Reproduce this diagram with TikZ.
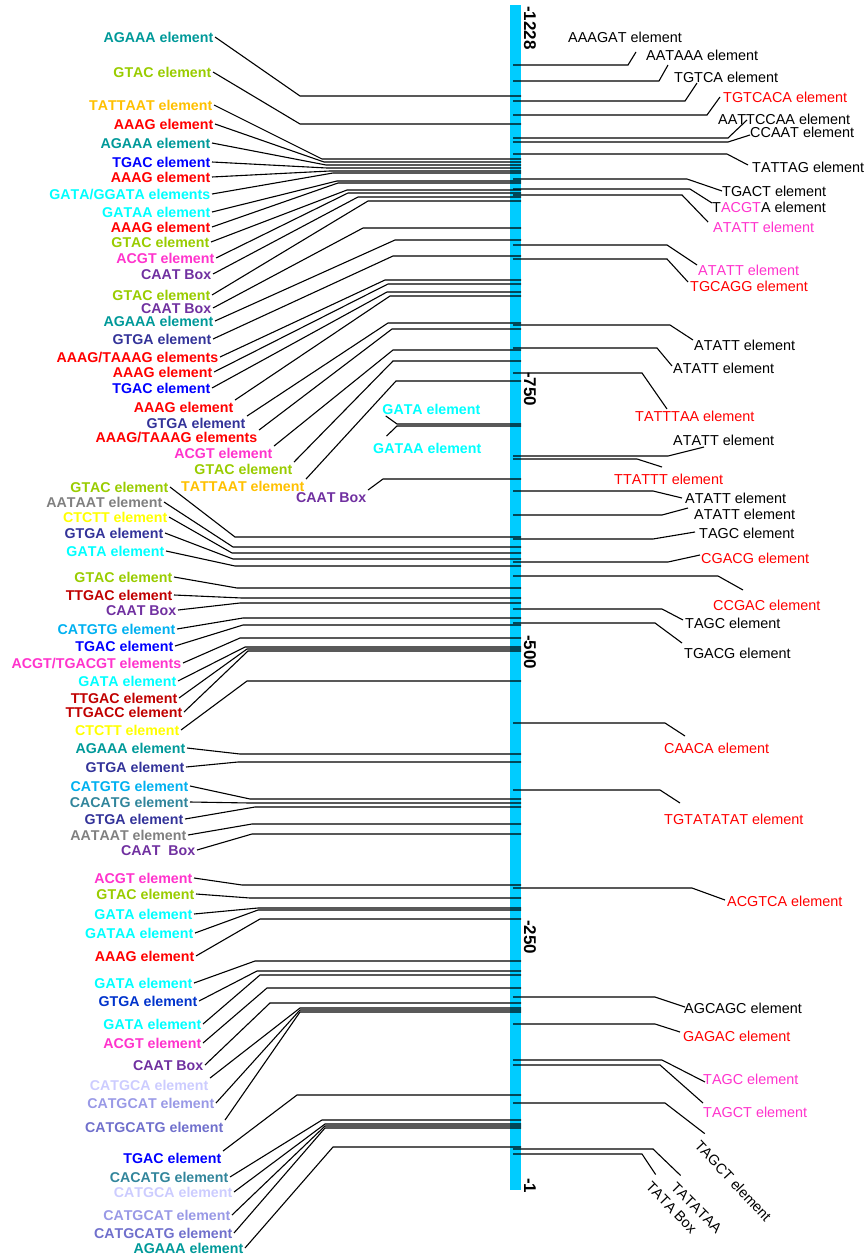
\documentclass[tikz,border=0pt]{standalone}
\usepackage{fontspec}
\setmainfont{Liberation Sans}[Kerning=Off]
\definecolor{cteal}{RGB}{0,153,153}
\definecolor{cyg}{RGB}{153,204,0}
\definecolor{corange}{RGB}{255,192,0}
\definecolor{cred}{RGB}{255,0,0}
\definecolor{cblue}{RGB}{0,0,255}
\definecolor{ccyan}{RGB}{0,255,255}
\definecolor{cpink}{RGB}{255,51,204}
\definecolor{cpurple}{RGB}{112,48,160}
\definecolor{cindigo}{RGB}{51,51,153}
\definecolor{cgray}{RGB}{128,128,128}
\definecolor{cyellow}{RGB}{255,255,0}
\definecolor{cdred}{RGB}{192,0,0}
\definecolor{csky}{RGB}{0,176,240}
\definecolor{ccacatg}{RGB}{49,133,155}
\definecolor{croyal}{RGB}{0,51,204}
\definecolor{clav}{RGB}{204,204,255}
\definecolor{clavb}{RGB}{153,153,230}
\definecolor{clavc}{RGB}{112,112,204}
\definecolor{barblue}{RGB}{0,204,255}
\tikzset{
  lab/.style={font=\bfseries\fontsize{14.2}{16}\selectfont, inner sep=1.5pt, text height=10.5pt, text depth=0pt, anchor=east},
  rlab/.style={font=\fontsize{14.4}{16}\selectfont, inner sep=1pt, text height=10.5pt, text depth=0pt, anchor=west},
  scalelab/.style={font=\bfseries\fontsize{17}{18}\selectfont, inner sep=0pt, rotate=-90, anchor=west},
  lead/.style={line width=1.1pt, black},
}
% left label: name, colour, right x, y, text, knee x, bar y, start anchor
\newcommand{\LL}[8]{%
  \node[lab, text=#2] (#1) at (#3,#4) {#5};
  \coordinate (#1k) at (#6,#7);
  \coordinate (#1b) at (521,#7);
  \draw[lead] (#1.#8) -- (#1k) -- (#1b);
}
% right label: name, colour, left x, y, text, knee x, bar y, end x, end y
\newcommand{\RL}[9]{%
  \node[rlab, text=#2] (#1) at (#3,#4) {#5};
  \coordinate (#1s) at (513,#7);
  \coordinate (#1k) at (#6,#7);
  \coordinate (#1e) at (#8,#9);
  \draw[lead] (#1s) -- (#1k) -- (#1e);
}
\begin{document}
\begin{tikzpicture}[x=1pt,y=-1pt]
\useasboundingbox (0,0) rectangle (864,1260);
\node[fill=barblue, minimum width=11pt, minimum height=1185pt, inner sep=0pt, anchor=north west] (bar) at (510,5) {};
% scale labels
\node[scalelab] (s1228) at (530,6) {-1228};
\node[scalelab] (s750) at (530,372) {-750};
\node[scalelab] (s500) at (530,635) {-500};
\node[scalelab] (s250) at (530,920) {-250};
\node[scalelab] (s1) at (530,1178) {-1};
% left, upper group
\LL{L1}{cteal}{215}{37}{AGAAA element}{300}{96}{east}
\LL{L2}{cyg}{213}{72}{GTAC element}{300}{124}{east}
\LL{L3}{corange}{214}{105}{TATTAAT element}{322}{159}{east}
\LL{L4}{cred}{215}{124}{AAAG element}{324}{162}{east}
\LL{L5}{cteal}{212}{143}{AGAAA element}{326}{165}{east}
\LL{L6}{cblue}{212}{162}{TGAC element}{327}{168}{east}
\LL{L7}{cred}{212}{177}{AAAG element}{330}{171}{east}
\LL{L8}{ccyan}{212}{194}{GATA/GGATA elements}{333}{173}{east}
\LL{L9}{ccyan}{212}{212}{GATAA element}{337}{181}{east}
\LL{L10}{cred}{212}{227}{AAAG element}{338}{183}{east}
\LL{L11}{cyg}{211}{242}{GTAC element}{347}{190}{east}
\LL{L12}{cpink}{216}{258}{ACGT element}{348}{193}{east}
\LL{L13}{cpurple}{213}{274}{CAAT Box}{358}{197}{east}
\LL{L14}{cyg}{212}{295}{GTAC element}{368}{201}{east}
\LL{L15}{cpurple}{213}{308}{CAAT Box}{363}{228}{east}
\LL{L16}{cteal}{215}{321}{AGAAA element}{395}{240}{east}
\LL{L17}{cindigo}{213}{339}{GTGA element}{393}{256}{east}
\LL{L18}{cred}{220}{357}{AAAG/TAAAG elements}{385}{280}{east}
\LL{L19}{cred}{214}{372}{AAAG element}{388}{284}{east}
\LL{L20}{cblue}{212}{388}{TGAC element}{387}{292}{east}
\LL{L21}{cred}{235}{407}{AAAG element}{390}{296}{north east}
\LL{L22}{cindigo}{247}{423}{GTGA element}{388}{323}{north east}
\LL{L23}{cred}{259}{437}{AAAG/TAAAG elements}{392}{329}{north east}
\LL{L24}{cpink}{274}{453}{ACGT element}{393}{350}{north east}
\LL{L25}{cyg}{294}{469}{GTAC element}{393}{361}{north east}
\LL{L26}{corange}{306}{486}{TATTAAT element}{396}{381}{north east}
% middle labels
\LL{L27}{cpurple}{368}{497}{CAAT Box}{383}{479}{north east}
\node[lab, text=ccyan] (L28) at (482,409) {GATA element};
\coordinate (L28k) at (397,424);
\coordinate (L28b) at (521,424);
\draw[lead] ([xshift=5pt]L28.south west) -- (L28k) -- (L28b);
\node[lab, text=ccyan] (L29) at (483,448) {GATAA element};
\coordinate (L29k) at (397,426);
\coordinate (L29b) at (521,426);
\draw[lead] ([xshift=15pt,yshift=5pt]L29.north west) -- (L29k) -- (L29b);
% left, lower groups
\LL{L30}{cyg}{170}{487}{GTAC element}{235}{537}{east}
\LL{L31}{cgray}{164}{502}{AATAAT element}{233}{547}{east}
\LL{L32}{cyellow}{169}{517}{CTCTT element}{232}{553}{east}
\LL{L33}{cindigo}{165}{533}{GTGA element}{233}{559}{east}
\LL{L34}{ccyan}{166}{551}{GATA element}{235}{566}{east}
\LL{L35}{cyg}{174}{577}{GTAC element}{237}{588}{east}
\LL{L36}{cdred}{174}{595}{TTGAC element}{242}{598}{east}
\LL{L37}{cpurple}{178}{610}{CAAT Box}{240}{603}{east}
\LL{L38}{csky}{177}{629}{CATGTG element}{243}{618}{east}
\LL{L39}{cblue}{175}{646}{TGAC element}{243}{625}{east}
\LL{L40}{cpink}{183}{663}{ACGT/TGACGT elements}{240}{638}{east}
\LL{L41}{ccyan}{178}{681}{GATA element}{245}{647}{east}
\LL{L42}{cdred}{179}{698}{TTGAC element}{247}{649}{east}
\LL{L43}{cdred}{184}{712}{TTGACC element}{248}{651}{east}
\LL{L44}{cyellow}{181}{730}{CTCTT element}{247}{681}{east}
\LL{L45}{cteal}{187}{748}{AGAAA element}{240}{754}{east}
\LL{L46}{cindigo}{186}{767}{GTGA element}{238}{762}{east}
\LL{L47}{csky}{190}{786}{CATGTG element}{250}{799}{east}
\LL{L48}{ccacatg}{190}{802}{CACATG element}{250}{803}{east}
\LL{L49}{cindigo}{185}{819}{GTGA element}{255}{807}{east}
\LL{L50}{cgray}{188}{835}{AATAAT element}{252}{824}{east}
\LL{L51}{cpurple}{197}{850}{CAAT\ \ Box}{252}{834}{east}
\LL{L52}{cpink}{194}{878}{ACGT element}{242}{885}{east}
\LL{L53}{cyg}{196}{894}{GTAC element}{250}{898}{east}
\LL{L54}{ccyan}{194}{914}{GATA element}{258}{908}{east}
\LL{L55}{ccyan}{195}{933}{GATAA element}{258}{910}{east}
\LL{L56}{cred}{196}{956}{AAAG element}{260}{919}{east}
\LL{L57}{ccyan}{194}{983}{GATA element}{255}{961}{east}
\LL{L58}{croyal}{199}{1001}{GTGA element}{257}{971}{east}
\LL{L59}{ccyan}{203}{1024}{GATA element}{260}{975}{east}
\LL{L60}{cpink}{203}{1043}{ACGT element}{267}{988}{east}
\LL{L61}{cpurple}{205}{1065}{CAAT Box}{270}{1003}{east}
\LL{L62}{clav}{210}{1085}{CATGCA element}{300}{1008}{north east}
\LL{L63}{clavb}{216}{1103}{CATGCAT element}{300}{1010}{east}
\LL{L64}{clavc}{225}{1127}{CATGCATG element}{300}{1012}{north east}
\LL{L65}{cblue}{223}{1158}{TGAC element}{297}{1095}{north east}
\LL{L66}{ccacatg}{230}{1177}{CACATG element}{322}{1120}{east}
\LL{L67}{clav}{234}{1192}{CATGCA element}{325}{1124}{east}
\LL{L68}{clavb}{232}{1215}{CATGCAT element}{325}{1126}{east}
\LL{L69}{clavc}{234}{1233}{CATGCATG element}{325}{1128}{east}
\LL{L70}{cteal}{245}{1248}{AGAAA element}{333}{1147}{east}
% right labels
\RL{R1}{black}{567}{37}{AAAGAT element}{628}{65}{636}{52}
\RL{R2}{black}{645}{55}{AATAAA element}{659}{81}{668}{65}
\RL{R3}{black}{673}{77}{TGTCA element}{685}{101}{697}{83}
\RL{R4}{cred}{722}{97}{TGTCACA element}{707}{115}{720}{97}
\RL{R5}{black}{717}{119}{AATTCCAA element}{728}{138}{747}{120}
\RL{R6}{black}{749}{132}{CCAAT element}{728}{142}{750}{135}
\RL{R7}{black}{751}{167}{TATTAG element}{727}{154}{748}{165}
\RL{R8}{black}{721}{191}{TGACT element}{687}{179}{722}{191}
\RL{R9}{black}{711}{207}{T\textcolor{cpink}{ACGT}A element}{690}{189}{712}{203}
\RL{R10}{cpink}{712}{227}{ATATT element}{682}{195}{708}{222}
\RL{R11}{cpink}{697}{270}{ATATT element}{667}{245}{697}{265}
\RL{R12}{cred}{689}{286}{TGCAGG element}{667}{259}{688}{282}
\RL{R13}{black}{693}{345}{ATATT element}{670}{325}{693}{340}
\RL{R14}{black}{672}{368}{ATATT element}{657}{348}{672}{366}
\RL{R15}{cred}{634}{416}{TATTTAA element}{642}{373}{667}{409}
\RL{R16}{black}{672}{440}{ATATT element}{668}{456}{704}{447}
\RL{R17}{cred}{613}{479}{TTATTT element}{637}{459}{662}{467}
\RL{R18}{black}{684}{498}{ATATT element}{653}{491}{682}{498}
\RL{R19}{black}{693}{514}{ATATT element}{662}{515}{688}{508}
\RL{R20}{black}{698}{533}{TAGC element}{653}{539}{695}{532}
\RL{R21}{cred}{700}{558}{CGACG element}{668}{562}{700}{555}
\RL{R22}{cred}{712}{605}{CCGAC element}{718}{576}{743}{590}
\RL{R23}{black}{684}{623}{TAGC element}{662}{609}{683}{620}
\RL{R24}{black}{683}{653}{TGACG element}{655}{623}{682}{643}
\RL{R25}{cred}{663}{748}{CAACA element}{665}{723}{685}{736}
\RL{R26}{cred}{663}{819}{TGTATATAT element}{660}{790}{680}{803}
\RL{R27}{cred}{726}{901}{ACGTCA element}{692}{888}{725}{900}
\RL{R28}{black}{683}{1008}{AGCAGC element}{655}{997}{685}{1007}
\RL{R29}{cred}{682}{1036}{GAGAC element}{655}{1024}{680}{1032}
\RL{R30}{cpink}{702}{1079}{TAGC element}{662}{1060}{705}{1082}
\RL{R31}{cpink}{702}{1112}{TAGCT element}{660}{1065}{703}{1103}
% rotated right labels
\node[rlab, rotate=-47] (R32) at (697,1142) {TAGCT element};
\coordinate (R32s) at (513,1103);
\coordinate (R32k) at (665,1103);
\draw[lead] (R32s) -- (R32k) -- ([xshift=3pt,yshift=4pt]R32.north west);
\node[rlab, rotate=-45] (R33) at (673,1184) {TATATAA};
\coordinate (R33s) at (513,1149);
\coordinate (R33k) at (653,1149);
\draw[lead] (R33s) -- (R33k) -- ([xshift=3pt,yshift=4pt]R33.north west);
\node[rlab, rotate=-46] (R34) at (648,1183) {TATA Box};
\coordinate (R34s) at (513,1154);
\coordinate (R34k) at (642,1154);
\draw[lead] (R34s) -- (R34k) -- ([xshift=3pt,yshift=4pt]R34.north west);
\end{tikzpicture}
\end{document}
